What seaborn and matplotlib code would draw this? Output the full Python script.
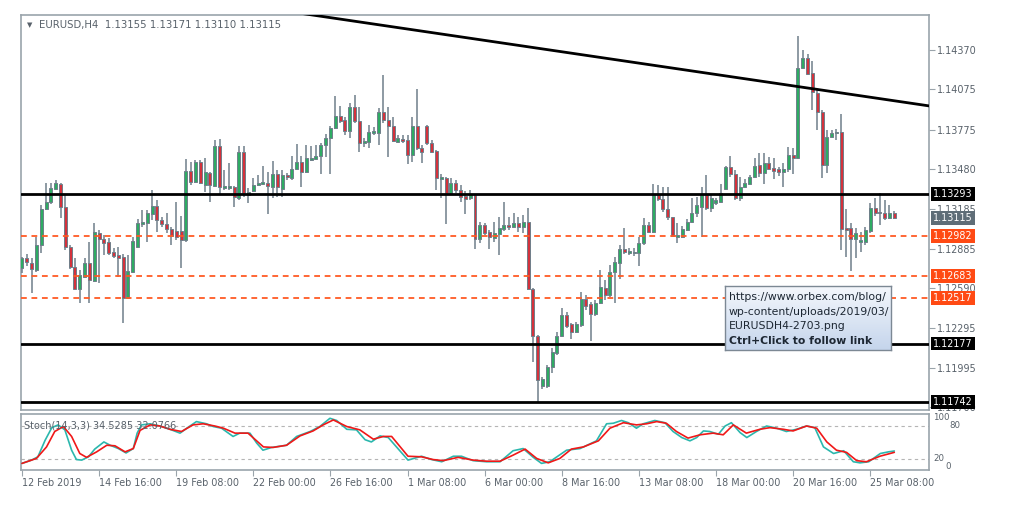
import numpy as np
import pandas as pd
import matplotlib
matplotlib.use("Agg")
import matplotlib.pyplot as plt
import matplotlib.transforms as mtransforms
from matplotlib.colors import LinearSegmentedColormap
import seaborn as sns

# ---------------- data (EURUSD H4) ----------------
opens = [1.12742, 1.12817, 1.12779, 1.12727, 1.12914, 1.13182, 1.13235, 1.13332, 1.13369, 1.13197,
         1.12899, 1.12749, 1.12585, 1.12674, 1.12779, 1.12644, 1.13003, 1.12958, 1.12936, 1.12861,
         1.12839, 1.12824, 1.12518, 1.12712, 1.12899, 1.13070, 1.13078, 1.13145, 1.13205, 1.13100,
         1.13070, 1.13033, 1.13018, 1.13018, 1.12951, 1.13466, 1.13384, 1.13534, 1.13362, 1.13451,
         1.13354, 1.13654, 1.13339, 1.13339, 1.13347, 1.13265, 1.13609, 1.13287, 1.13317, 1.13362,
         1.13369, 1.13377, 1.13347, 1.13444, 1.13332, 1.13436, 1.13414, 1.13481, 1.13534, 1.13459,
         1.13549, 1.13556, 1.13579, 1.13661, 1.13713, 1.13787, 1.13877, 1.13847, 1.13765, 1.13944,
         1.13840, 1.13676, 1.13683, 1.13750, 1.13750, 1.13907, 1.13847, 1.13802, 1.13683, 1.13706,
         1.13698, 1.13586, 1.13802, 1.13639, 1.13802, 1.13676, 1.13616, 1.13406, 1.13414, 1.13302,
         1.13377, 1.13324, 1.13279, 1.13265, 1.13287, 1.12958, 1.13063, 1.13011, 1.12966, 1.12996,
         1.13033, 1.13063, 1.13048, 1.13078, 1.13048, 1.13085, 1.12585, 1.12234, 1.11860, 1.11860,
         1.12002, 1.12107, 1.12234, 1.12391, 1.12323, 1.12263, 1.12316, 1.12510, 1.12473, 1.12398,
         1.12480, 1.12592, 1.12540, 1.12712, 1.12779, 1.12884, 1.12854, 1.12854, 1.12854, 1.12928,
         1.13063, 1.13011, 1.13287, 1.13257, 1.13182, 1.13123, 1.12973, 1.12973, 1.13026, 1.13085,
         1.13152, 1.13197, 1.13287, 1.13190, 1.13227, 1.13235, 1.13332, 1.13496, 1.13444, 1.13265,
         1.13347, 1.13369, 1.13421, 1.13511, 1.13451, 1.13526, 1.13489, 1.13481, 1.13459, 1.13481,
         1.13586, 1.13564, 1.14236, 1.14310, 1.14198, 1.14049, 1.13907, 1.13511, 1.13721, 1.13750,
         1.13758, 1.13040, 1.13040, 1.12958, 1.12936, 1.12936, 1.13018, 1.13190, 1.13160, 1.13152,
         1.13115, 1.13155]
highs = [1.12824, 1.12846, 1.12817, 1.12973, 1.13212, 1.13377, 1.13377, 1.13399, 1.13377, 1.13287,
         1.12914, 1.12817, 1.12727, 1.12817, 1.12936, 1.13078, 1.13026, 1.12988, 1.12966, 1.12891,
         1.12899, 1.12846, 1.12839, 1.12973, 1.13108, 1.13175, 1.13175, 1.13324, 1.13250, 1.13123,
         1.13152, 1.13048, 1.13235, 1.13130, 1.13556, 1.13534, 1.13549, 1.13549, 1.13564, 1.13459,
         1.13698, 1.13706, 1.13474, 1.13526, 1.13354, 1.13654, 1.13654, 1.13339, 1.13414, 1.13436,
         1.13504, 1.13459, 1.13541, 1.13474, 1.13474, 1.13451, 1.13579, 1.13668, 1.13579, 1.13661,
         1.13654, 1.13661, 1.13676, 1.13743, 1.13802, 1.14026, 1.13952, 1.13870, 1.13974, 1.14034,
         1.13944, 1.13713, 1.13810, 1.13795, 1.13937, 1.14183, 1.13944, 1.13870, 1.13736, 1.13736,
         1.13736, 1.13870, 1.14079, 1.13661, 1.13810, 1.13698, 1.13624, 1.13444, 1.13421, 1.13414,
         1.13399, 1.13362, 1.13317, 1.13324, 1.13294, 1.13085, 1.13078, 1.13026, 1.13085, 1.13123,
         1.13235, 1.13123, 1.13152, 1.13123, 1.13138, 1.13190, 1.12592, 1.12241, 1.11927, 1.12017,
         1.12144, 1.12263, 1.12443, 1.12413, 1.12331, 1.12338, 1.12562, 1.12540, 1.12488, 1.12503,
         1.12727, 1.12652, 1.12764, 1.12824, 1.12914, 1.13040, 1.12891, 1.12891, 1.12973, 1.13115,
         1.13085, 1.13369, 1.13362, 1.13347, 1.13347, 1.13123, 1.13078, 1.13055, 1.13108, 1.13265,
         1.13272, 1.13347, 1.13436, 1.13287, 1.13265, 1.13369, 1.13504, 1.13579, 1.13474, 1.13421,
         1.13406, 1.13436, 1.13564, 1.13601, 1.13601, 1.13571, 1.13564, 1.13496, 1.13526, 1.13646,
         1.13639, 1.14475, 1.14370, 1.14340, 1.14288, 1.14071, 1.13922, 1.13773, 1.13773, 1.13780,
         1.13892, 1.13182, 1.13078, 1.13040, 1.13011, 1.13048, 1.13227, 1.13265, 1.13302, 1.13250,
         1.13212, 1.13171]
lows = [1.12704, 1.12757, 1.12555, 1.12712, 1.12854, 1.13175, 1.13220, 1.13324, 1.13115, 1.12876,
        1.12734, 1.12577, 1.12480, 1.12667, 1.12480, 1.12637, 1.12629, 1.12839, 1.12839, 1.12817,
        1.12674, 1.12331, 1.12510, 1.12704, 1.12891, 1.13048, 1.12936, 1.13100, 1.13011, 1.13048,
        1.13003, 1.12914, 1.12951, 1.12742, 1.12936, 1.13362, 1.13377, 1.13369, 1.13309, 1.13235,
        1.13347, 1.13294, 1.13324, 1.13324, 1.13197, 1.13250, 1.13272, 1.13227, 1.13309, 1.13354,
        1.13362, 1.13145, 1.13265, 1.13272, 1.13272, 1.13399, 1.13399, 1.13474, 1.13347, 1.13451,
        1.13541, 1.13549, 1.13444, 1.13571, 1.13444, 1.13780, 1.13825, 1.13736, 1.13713, 1.13825,
        1.13609, 1.13646, 1.13639, 1.13736, 1.13661, 1.13825, 1.13571, 1.13683, 1.13676, 1.13676,
        1.13519, 1.13534, 1.13624, 1.13526, 1.13661, 1.13601, 1.13324, 1.13265, 1.13070, 1.13294,
        1.13302, 1.13235, 1.13145, 1.13250, 1.12884, 1.12928, 1.12988, 1.12884, 1.12936, 1.12839,
        1.13018, 1.13026, 1.13040, 1.13011, 1.13003, 1.12577, 1.12039, 1.11741, 1.11838, 1.11845,
        1.11957, 1.12092, 1.12226, 1.12293, 1.12211, 1.12256, 1.12301, 1.12428, 1.12196, 1.12383,
        1.12473, 1.12503, 1.12525, 1.12480, 1.12659, 1.12846, 1.12839, 1.12831, 1.12757, 1.12914,
        1.13003, 1.13003, 1.13242, 1.13160, 1.13100, 1.12973, 1.12928, 1.12966, 1.13018, 1.13078,
        1.13123, 1.12973, 1.13175, 1.13160, 1.13212, 1.13227, 1.13324, 1.13421, 1.13250, 1.13242,
        1.13339, 1.13362, 1.13414, 1.13421, 1.13369, 1.13474, 1.13406, 1.13429, 1.13347, 1.13459,
        1.13444, 1.13556, 1.14228, 1.14183, 1.13922, 1.13773, 1.13414, 1.13451, 1.13713, 1.13698,
        1.12876, 1.12824, 1.12719, 1.12817, 1.12861, 1.12914, 1.13003, 1.13130, 1.13063, 1.13100,
        1.13108, 1.13110]
closes = [1.12817, 1.12787, 1.12734, 1.12914, 1.13182, 1.13235, 1.13339, 1.13377, 1.13197, 1.12899,
          1.12749, 1.12585, 1.12689, 1.12779, 1.12652, 1.13011, 1.12958, 1.12928, 1.12854, 1.12831,
          1.12817, 1.12518, 1.12719, 1.12943, 1.13078, 1.13085, 1.13152, 1.13205, 1.13100, 1.13070,
          1.13033, 1.12981, 1.12973, 1.12951, 1.13466, 1.13384, 1.13534, 1.13377, 1.13459, 1.13362,
          1.13654, 1.13347, 1.13354, 1.13354, 1.13272, 1.13609, 1.13302, 1.13309, 1.13362, 1.13377,
          1.13384, 1.13354, 1.13444, 1.13347, 1.13436, 1.13421, 1.13481, 1.13534, 1.13459, 1.13564,
          1.13564, 1.13579, 1.13661, 1.13713, 1.13787, 1.13877, 1.13840, 1.13765, 1.13944, 1.13840,
          1.13676, 1.13691, 1.13758, 1.13765, 1.13907, 1.13847, 1.13802, 1.13691, 1.13713, 1.13691,
          1.13586, 1.13802, 1.13639, 1.13609, 1.13676, 1.13609, 1.13414, 1.13421, 1.13302, 1.13377,
          1.13324, 1.13272, 1.13257, 1.13294, 1.12958, 1.13063, 1.13003, 1.12973, 1.13003, 1.13040,
          1.13063, 1.13048, 1.13078, 1.13048, 1.13085, 1.12585, 1.12234, 1.11905, 1.11912, 1.12002,
          1.12114, 1.12234, 1.12391, 1.12308, 1.12263, 1.12323, 1.12510, 1.12458, 1.12398, 1.12480,
          1.12600, 1.12540, 1.12712, 1.12787, 1.12884, 1.12861, 1.12869, 1.12861, 1.12928, 1.13063,
          1.13011, 1.13287, 1.13257, 1.13182, 1.13123, 1.12981, 1.12988, 1.13033, 1.13085, 1.13152,
          1.13212, 1.13287, 1.13190, 1.13265, 1.13250, 1.13302, 1.13496, 1.13444, 1.13265, 1.13347,
          1.13377, 1.13421, 1.13504, 1.13451, 1.13526, 1.13481, 1.13466, 1.13459, 1.13481, 1.13586,
          1.13564, 1.14236, 1.14310, 1.14191, 1.14056, 1.13907, 1.13511, 1.13721, 1.13750, 1.13758,
          1.13033, 1.13026, 1.12958, 1.13003, 1.12951, 1.13026, 1.13190, 1.13152, 1.13152, 1.13115,
          1.13152, 1.13115]

# Stochastic(14,3,3): bar position -> value
stoch_k_bars = [0, 2, 3.3, 4.8, 6.2, 7.5, 8.9, 10.3, 11.3, 12.4, 13.8, 15.1, 17, 18.3, 20, 21.6, 23.1,
                23.9, 24.8, 26.6, 28.6, 30.7, 32.8, 34.2, 36.2, 38.3, 39.7, 41.4, 43.8, 45.2, 47.3, 48.7,
                50, 51.8, 54.9, 57, 59.8, 61.8, 63.9, 65.3, 67.4, 69.4, 71.2, 72.5, 74.3, 76, 77.7, 80.1,
                82.9, 85, 87.1, 89.5, 91.2, 93.6, 96.4, 99.2, 101.9, 104, 106.1, 107.8, 109.5, 113,
                115.8, 119.2, 121.3, 122.7, 124.4, 125.8, 127.5, 128.9, 131.3, 133.4, 135.1, 136.9,
                138.6, 140, 141.4, 142.7, 144.5, 145.9, 147.2, 149, 150.4, 152.4, 154.5, 156.6, 158.6,
                160.7, 162.8, 164.5, 166.3, 168.4, 170.5, 172.5, 173.9, 175.7, 178.1, 179.8, 181]
stoch_k = [12, 18, 24, 54, 77, 82, 73, 36, 19, 18, 24, 38, 51, 45, 39, 31, 39,
           67, 82, 84, 80, 74, 67, 76, 88, 84, 79, 76, 61, 67, 67, 49,
           36, 41, 45, 61, 70, 79, 94, 90, 74, 73, 55, 51, 62, 59, 42, 18,
           25, 19, 15, 25, 25, 17, 15, 15, 35, 39, 23, 12, 15, 36,
           39, 53, 84, 85, 90, 86, 76, 84, 90, 86, 70, 59,
           53, 59, 71, 70, 65, 80, 86, 68, 59, 70, 80, 76, 70,
           74, 80, 77, 42, 30, 35, 15, 13, 15, 30, 33, 34.53]
stoch_d_bars = [0, 3, 5.1, 6.8, 8.6, 10.3, 12, 13.4, 15.5, 17.6, 19.3, 21.4, 23.1, 24.5, 26.6, 28.6,
                30.7, 33.1, 35.5, 37.6, 40, 41.8, 44.2, 46.9, 50.1, 52.1, 54.9, 57.7, 60.4, 62.5, 64.6,
                67.4, 70.1, 72.9, 75, 76.7, 80.1, 82.9, 85.3, 87.4, 90.5, 93.6, 96.4, 99.2, 101.9,
                104.4, 106.8, 109.2, 111.6, 114, 116.5, 119.6, 122, 124.8, 127.5, 129.6, 131.7, 133.7,
                135.8, 138.2, 140.7, 143.4, 145.5, 147.6, 150.3, 153.1, 155.2, 158, 160, 162.8, 164.9,
                167, 169, 171.1, 173.2, 175.2, 178, 181]
stoch_d = [12, 21, 42, 70, 79, 61, 30, 23, 33, 45, 44, 33, 39, 72, 82, 80,
           74, 70, 82, 84, 80, 76, 67, 67, 42, 41, 45, 62, 71, 82, 91,
           79, 73, 56, 61, 61, 25, 24, 19, 17, 23, 18, 16, 16, 27,
           38, 21, 13, 21, 38, 42, 53, 76, 86, 82, 84, 88, 85,
           70, 58, 64, 67, 64, 82, 67, 74, 77, 74, 71, 80, 76,
           51, 36, 32, 17, 15, 25, 32.08]

black_levels = [1.13293, 1.12177, 1.11742]
orange_levels = [1.12982, 1.12683, 1.12517]
current_price = 1.13115
trend_bars = [50, 190]
trend_prices = [1.14686, 1.13943]

price_ticks = [1.14370, 1.14075, 1.13775, 1.13480, 1.13185, 1.12885, 1.12590, 1.12295, 1.11995, 1.11700]
time_tick_bars = [0, 16, 32, 48, 64, 80, 96, 112, 128, 144, 160, 176]
time_tick_labels = ["12 Feb 2019", "14 Feb 16:00", "19 Feb 08:00", "22 Feb 00:00", "26 Feb 16:00",
                    "1 Mar 08:00", "6 Mar 00:00", "8 Mar 16:00", "13 Mar 08:00", "18 Mar 00:00",
                    "20 Mar 16:00", "25 Mar 08:00"]
stoch_scale_labels = ["100", "80", "20", "0"]
header = "EURUSD,H4  1.13155 1.13171 1.13110 1.13115"
stoch_title = "Stoch(14,3,3) 34.5285 32.0766"
tooltip_lines = ["https://www.orbex.com/blog/", "wp-content/uploads/2019/03/",
                 "EURUSDH4-2703.png", "Ctrl+Click to follow link"]

# ---------------- styling ----------------
sns.set_style("white")
plt.rcParams['font.family'] = ['DejaVu Sans']

GREEN = "#2eab63"
RED = "#d3323c"
WICK = "#6f7f8a"
FRAME = "#9aa4ab"
TXT = "#58616a"
ORANGE = "#ff5a24"

W, H = 1013, 507
fig = plt.figure(figsize=(W / 100, H / 100), dpi=100)
ax = fig.add_axes([21 / W, 1 - 410 / H, 908 / W, 395 / H])
ax2 = fig.add_axes([21 / W, 1 - 470 / H, 908 / W, 56 / H])

df = pd.DataFrame({"o": opens, "h": highs, "l": lows, "c": closes})
df["x"] = np.arange(len(df))
up = df["c"] >= df["o"]

ax.vlines(df["x"], df["l"], df["h"], color=WICK, lw=1.1, zorder=3)
for mask, col in ((up, GREEN), (~up, RED)):
    d = df[mask]
    ax.bar(d["x"], (d["c"] - d["o"]).abs(), bottom=np.minimum(d["o"], d["c"]), width=0.62,
           color=col, edgecolor=WICK, linewidth=0.7, zorder=4)

for lv in orange_levels:
    ax.axhline(lv, color=ORANGE, lw=1.3, dashes=(3.2, 2.6), zorder=5)
for lv in black_levels:
    ax.axhline(lv, color="black", lw=2.0, zorder=5)

sns.lineplot(x=trend_bars, y=trend_prices, ax=ax, color="black", lw=2.0, legend=False, zorder=6)

ax.set_xlim(-0.2, 188.2)
ax.set_ylim(1.116808, 1.146315)
ax.set_xticks([])
ax.yaxis.tick_right()
ax.set_yticks(price_ticks)
ax.set_yticklabels([f"{v:.5f}" for v in price_ticks])
ax.tick_params(axis="y", right=True, length=4, width=0.8, color=FRAME, labelsize=6.9,
               labelcolor=TXT, pad=2)
ax.set_xlabel("")
ax.set_ylabel("")
for s in ax.spines.values():
    s.set_color(FRAME)
    s.set_linewidth(1.2)

blend = mtransforms.blended_transform_factory(ax.transAxes, ax.transData)
boxes = [(v, "black") for v in black_levels] + [(v, "#ff4a14") for v in orange_levels] + \
        [(current_price, "#5f6d77")]
for lv, fc in boxes:
    ax.text(1.0045, lv, f"{lv:.5f}", transform=blend, ha="left", va="center", color="white",
            fontsize=6.9, zorder=20, clip_on=False,
            bbox=dict(boxstyle="square,pad=0.2", fc=fc, ec="none"))

ax.text(6 / 908, 1 - 10 / 395, "\u25BC", transform=ax.transAxes, ha="left", va="center",
        fontsize=5, color=TXT)
ax.text(18 / 908, 1 - 10 / 395, header, transform=ax.transAxes, ha="left", va="center",
        fontsize=7.3, color=TXT)

# ---------------- stochastic panel ----------------
for lv in (80, 20):
    ax2.axhline(lv, color="#b5b5b5", lw=0.8, dashes=(3, 3), zorder=1)
sns.lineplot(x=stoch_k_bars, y=stoch_k, ax=ax2, color="#2bb7ad", lw=1.2, legend=False, zorder=3)
sns.lineplot(x=stoch_d_bars, y=stoch_d, ax=ax2, color="#f01818", lw=1.2, legend=False, zorder=4)
ax2.set_xlim(-0.2, 188.2)
ax2.set_ylim(0, 101.8)
ax2.set_yticks([])
ax2.set_xticks(time_tick_bars)
ax2.set_xticklabels(time_tick_labels, ha="left")
ax2.tick_params(axis="x", bottom=True, direction="out", length=4, width=0.8, color=FRAME,
                labelsize=6.9, labelcolor=TXT, pad=2)
ax2.set_xlabel("")
ax2.set_ylabel("")
for s in ax2.spines.values():
    s.set_color(FRAME)
    s.set_linewidth(1.2)
ax2.text(3 / 908, 0.80, stoch_title, transform=ax2.transAxes, ha="left", va="center",
         fontsize=7.0, color=TXT, zorder=6)
# scale labels on the right of the oscillator (kept compact, as in the terminal)
ax2.text(1.0045, 0.93, stoch_scale_labels[0], transform=ax2.transAxes, ha="left", va="center",
         fontsize=6.2, color=TXT, clip_on=False)
ax2.text(1.0225, 0.80, stoch_scale_labels[1], transform=ax2.transAxes, ha="left", va="center",
         fontsize=6.2, color=TXT, clip_on=False)
ax2.text(1.0045, 0.20, stoch_scale_labels[2], transform=ax2.transAxes, ha="left", va="center",
         fontsize=6.2, color=TXT, clip_on=False)
ax2.text(1.0185, 0.07, stoch_scale_labels[3], transform=ax2.transAxes, ha="left", va="center",
         fontsize=6.2, color=TXT, clip_on=False)

# ---------------- tooltip ----------------
tip = fig.add_axes([725 / W, 1 - 350 / H, 166 / W, 64 / H], zorder=30)
grad = np.linspace(0, 1, 64).reshape(-1, 1)
cmap = LinearSegmentedColormap.from_list("tip", ["#f4f7fc", "#c5d5ec"])
tip.imshow(grad, aspect="auto", cmap=cmap, extent=[0, 1, 0, 1], origin="upper")
tip.set_xticks([])
tip.set_yticks([])
for s in tip.spines.values():
    s.set_color("#7c8894")
    s.set_linewidth(1.0)
for i, line in enumerate(tooltip_lines):
    tip.text(4 / 166, 1 - (11 + 14.6 * i) / 64, line, transform=tip.transAxes, ha="left",
             va="center", fontsize=7.8, color="#1d2733",
             fontweight="bold" if i == 3 else "normal")

fig.savefig("out.png", dpi=100, facecolor="white")
